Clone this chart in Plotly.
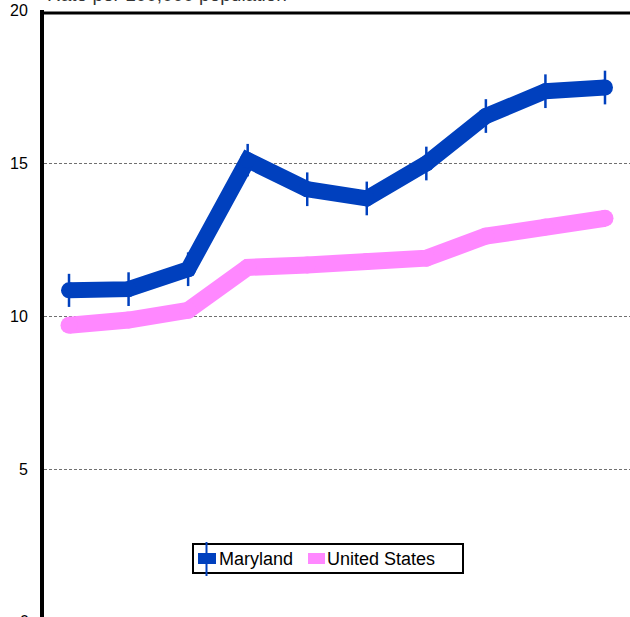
import plotly.graph_objects as go

# x categories (labels sit below the visible area)
years = [1999, 2000, 2001, 2002, 2003, 2004, 2005, 2006, 2007, 2008]
maryland = [10.85, 10.89, 11.54, 15.10, 14.15, 13.85, 14.99, 16.54, 17.35, 17.47]
maryland_err = [0.54, 0.55, 0.55, 0.53, 0.55, 0.55, 0.55, 0.55, 0.55, 0.55]
united_states = [9.71, 9.88, 10.2, 11.6, 11.68, 11.79, 11.9, 12.62, 12.92, 13.2]
y_ticks = [0, 5, 10, 15, 20]

BLUE = "#0040BE"
PINK = "#FF88FF"
FONT = "Liberation Sans, Arial, sans-serif"

W, H = 630, 617
ML, MT = 44, 10


def px(x):
    return (x - ML) / (W - ML)


def py(y):
    return 1 - (y - MT) / (H - MT)


fig = go.Figure()

fig.add_trace(go.Scatter(
    x=years, y=united_states, name="United States",
    mode="lines+markers",
    line=dict(color=PINK, width=17),
    marker=dict(color=PINK, size=17, symbol="circle"),
    showlegend=False,
))
fig.add_trace(go.Scatter(
    x=years, y=maryland, name="Maryland",
    mode="lines+markers",
    line=dict(color=BLUE, width=16),
    marker=dict(color=BLUE, size=16, symbol="circle"),
    error_y=dict(type="data", array=maryland_err, visible=True,
                 color=BLUE, thickness=2.5, width=0),
    showlegend=False,
))

# top border of the plot frame
fig.add_shape(type="line", xref="paper", yref="paper",
              x0=0, x1=1, y0=py(13), y1=py(13),
              line=dict(color="black", width=3))

# legend box drawn by hand
fig.add_shape(type="rect", xref="paper", yref="paper",
              x0=px(193), x1=px(463), y0=py(573), y1=py(544),
              line=dict(color="black", width=2), fillcolor="white")
fig.add_shape(type="rect", xref="paper", yref="paper",
              x0=px(198), x1=px(216), y0=py(564), y1=py(553),
              line=dict(width=0), fillcolor=BLUE)
fig.add_shape(type="line", xref="paper", yref="paper",
              x0=px(206.5), x1=px(206.5), y0=py(576), y1=py(542),
              line=dict(color=BLUE, width=2))
fig.add_shape(type="rect", xref="paper", yref="paper",
              x0=px(308), x1=px(325), y0=py(564), y1=py(553),
              line=dict(width=0), fillcolor=PINK)
for label, x_left in [("Maryland", 218), ("United States", 326)]:
    fig.add_annotation(
        xref="paper", yref="paper", x=px(x_left), y=py(559),
        xanchor="left", yanchor="middle", showarrow=False, borderpad=0,
        text=label, font=dict(family=FONT, size=18, color="black"),
    )

fig.add_annotation(
    xref="paper", yref="paper", x=px(46), y=1, xanchor="left",
    yanchor="bottom", yshift=4, showarrow=False, borderpad=0,
    text="Rate per 100,000 population",
    font=dict(family=FONT, size=19, color="#333333"),
)
# "0" tick label, mostly below the visible area
fig.add_annotation(
    xref="paper", yref="paper", x=0, y=py(621), xanchor="right",
    yanchor="middle", xshift=-13, showarrow=False, text="0",
    font=dict(family=FONT, size=16, color="black"),
)

fig.update_layout(
    width=W, height=H,
    margin=dict(l=ML, r=0, t=MT, b=0),
    paper_bgcolor="white", plot_bgcolor="white",
    font=dict(family=FONT, size=16, color="black"),
    xaxis=dict(range=[years[0] - 0.42, years[0] + 9.42],
               showgrid=False, zeroline=False, showticklabels=False,
               showline=False),
    yaxis=dict(range=[0.19, 20], tickvals=y_ticks,
               showgrid=True, gridcolor="#707070", gridwidth=1,
               griddash="3px,2px", zeroline=False,
               showline=True, linecolor="black", linewidth=4,
               ticks="", ticklabelstandoff=9,
               tickfont=dict(family=FONT, size=16, color="black")),
    showlegend=False,
)

fig.write_html("out.html", config={"displayModeBar": False},
               post_script="document.body.style.margin='0px';")
